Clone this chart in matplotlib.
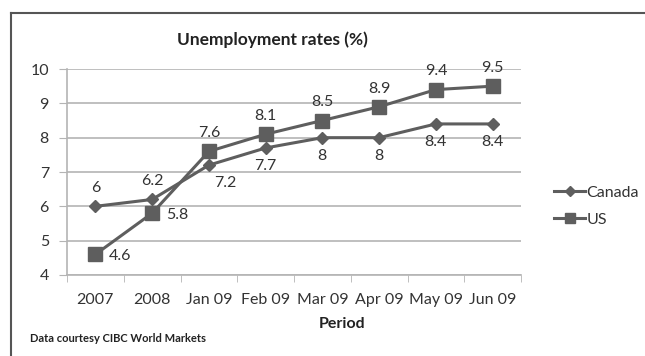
import matplotlib
matplotlib.use("Agg")
import matplotlib.pyplot as plt
from matplotlib.lines import Line2D

plt.rcParams['font.family'] = ['Lato', 'DejaVu Sans']

periods = ["2007", "2008", "Jan 09", "Feb 09", "Mar 09", "Apr 09", "May 09", "Jun 09"]
canada = [6, 6.2, 7.2, 7.7, 8, 8, 8.4, 8.4]
us = [4.6, 5.8, 7.6, 8.1, 8.5, 8.9, 9.4, 9.5]
canada_lbl_pos = ["above", "above", "belowright", "below", "below", "below", "below", "below"]
us_lbl_pos = ["right", "right", "above", "above", "above", "above", "above", "above"]
yticks = [4, 5, 6, 7, 8, 9, 10]

line_col = "#5e5e5e"
grid_col = "#b4b4b4"
text_col = "#333333"
fs = 11.5

fig = plt.figure(figsize=(6.45, 3.56), dpi=100)
ax = fig.add_axes([67/645, 1-275/356, (521-67)/645, (275-69)/356])

x = list(range(len(periods)))
ax.plot(x, canada, color=line_col, lw=2.2, marker='D', ms=6.5, mfc=line_col, mec=line_col, label="Canada", zorder=3)
ax.plot(x, us, color=line_col, lw=2.2, marker='s', ms=9.5, mfc=line_col, mec=line_col, label="US", zorder=3)

offsets = {"above": (0, 8, 'center', 'bottom'),
           "below": (0, -8, 'center', 'top'),
           "belowright": (4, -8, 'left', 'top'),
           "right": (10, -1, 'left', 'center')}

def fmt(v):
    return ("%g" % v)

for xi, v, p in zip(x, canada, canada_lbl_pos):
    dx, dy, ha, va = offsets[p]
    ax.annotate(fmt(v), (xi, v), xytext=(dx, dy), textcoords='offset points',
                ha=ha, va=va, fontsize=fs, color=text_col)
for xi, v, p in zip(x, us, us_lbl_pos):
    dx, dy, ha, va = offsets[p]
    ax.annotate(fmt(v), (xi, v), xytext=(dx, dy), textcoords='offset points',
                ha=ha, va=va, fontsize=fs, color=text_col)

ax.set_xlim(-0.5, len(periods) - 0.5)
ax.set_ylim(4, 10)
ax.set_yticks(yticks)
ax.set_yticklabels([str(t) for t in yticks], fontsize=fs, color=text_col)
ax.set_xticks(x)
ax.set_xticklabels(periods, fontsize=fs, color=text_col)
ax.set_xticks([i - 0.5 for i in range(len(periods) + 1)], minor=True)
ax.tick_params(axis='x', which='major', length=0, pad=13)
ax.tick_params(axis='x', which='minor', length=5, color=grid_col, direction='out')
ax.tick_params(axis='y', length=6, color=grid_col, pad=7)
ax.grid(axis='y', color=grid_col, lw=1.2)
ax.set_axisbelow(True)
for s in ['top', 'right']:
    ax.spines[s].set_visible(False)
for s in ['left', 'bottom']:
    ax.spines[s].set_color(grid_col)
    ax.spines[s].set_linewidth(1.2)

fig.text(342/645, 1-324/356, "Period", ha='center', va='center',
         fontsize=fs, fontweight='bold', color='#222222')
fig.text(272/645, 1-40/356, "Unemployment rates (%)", ha='center', va='center',
         fontsize=12.5, fontweight='bold', color='#222222')
fig.text(30/645, 1-338/356, "Data courtesy CIBC World Markets", ha='left', va='center',
         fontsize=8, fontweight='bold', color='#222222')

handles = [Line2D([], [], color=line_col, lw=2.2, marker='D', ms=5.5, mfc=line_col, mec=line_col),
           Line2D([], [], color=line_col, lw=2.2, marker='s', ms=7.5, mfc=line_col, mec=line_col)]
fig.legend(handles, ["Canada", "US"], loc='center left', bbox_to_anchor=(540/645, 1-206/356),
           frameon=False, fontsize=fs, handlelength=1.9, handletextpad=0.1,
           labelspacing=0.8, labelcolor=text_col)

# outer border (left and top)
fig.add_artist(Line2D([11/645, 11/645], [0, 1-13/356], transform=fig.transFigure, color='#555555', lw=1.5))
fig.add_artist(Line2D([11/645, 1], [1-13/356, 1-13/356], transform=fig.transFigure, color='#555555', lw=1.5))

fig.savefig("out.png", dpi=100)
